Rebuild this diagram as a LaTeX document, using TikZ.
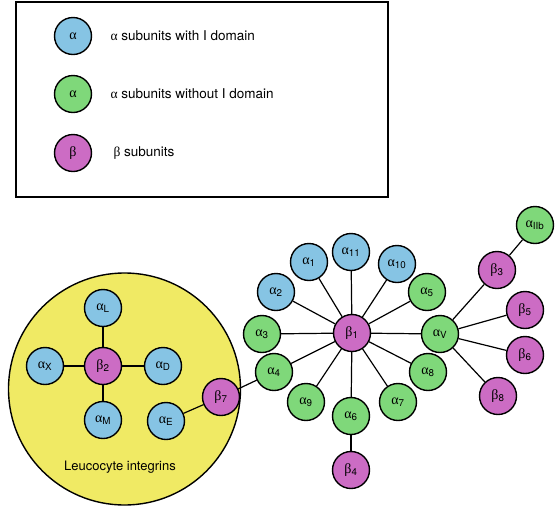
\documentclass[tikz,border=0pt]{standalone}
\usepackage{fontspec}
\setmainfont{TeX Gyre Heros}
\newfontfamily\grk{Liberation Serif}
\definecolor{iblue}{RGB}{134,196,228}
\definecolor{igreen}{RGB}{127,216,122}
\definecolor{ipink}{RGB}{204,108,196}
\definecolor{leuco}{RGB}{240,234,100}
\newcommand{\asub}[1]{{\grk α}\textsubscript{#1}}
\newcommand{\bsub}[1]{{\grk β}\textsubscript{#1}}

\begin{document}
\begin{tikzpicture}[
    x=1pt, y=-1pt,
    unit/.style={circle, draw, line width=1.4pt, minimum size=37pt, inner sep=0pt,
        font=\fontsize{14}{14}\selectfont},
    withi/.style={unit, fill=iblue},
    noi/.style={unit, fill=igreen},
    beta/.style={unit, fill=ipink},
    link/.style={line width=1.2pt},
    lbl/.style={font=\fontsize{13.5}{15}\selectfont, anchor=west},
]
    \useasboundingbox (0,0) rectangle (555,507);

    %% key
    \draw[line width=1.4pt] (16,2) rectangle (388,197);
    \node[withi] (kwith) at (73,36) {\grk α};
    \node[noi] (kno) at (73,94) {\grk α};
    \node[beta] (kbeta) at (73,153) {\grk β};
    \node[lbl] (twith) at (107,36) {{\grk α} subunits with I domain};
    \node[lbl] (tno) at (107,94) {{\grk α} subunits without I domain};
    \node[lbl] (tbeta) at (110,153) {{\grk β} subunits};

    %% leucocyte group
    \node[circle, draw, line width=1.4pt, fill=leuco, minimum size=232pt] (leuco) at (124.5,389) {};
    \node[font=\fontsize{13}{15}\selectfont] (tleuco) at (120,467) {Leucocyte integrins};

    \node[beta] (b2) at (103,366) {\bsub{2}};
    \node[withi] (aL) at (103,308) {\asub{L}};
    \node[withi] (aX) at (45,366) {\asub{X}};
    \node[withi] (aD) at (163,366) {\asub{D}};
    \node[withi] (aM) at (103,420) {\asub{M}};
    \node[withi] (aE) at (166,421) {\asub{E}};
    \node[beta] (b7) at (221,397) {\bsub{7}};

    %% beta1 partners
    \node[beta] (b1) at (352,333) {\bsub{1}};
    \node[withi] (a11) at (351,252) {\asub{11}};
    \node[withi] (a1) at (309,262) {\asub{1}};
    \node[withi] (a10) at (397,264) {\asub{10}};
    \node[withi] (a2) at (276,292) {\asub{2}};
    \node[noi] (a5) at (427,292) {\asub{5}};
    \node[noi] (a3) at (262,334) {\asub{3}};
    \node[noi] (aV) at (440,334) {\asub{V}};
    \node[noi] (a4) at (274,372) {\asub{4}};
    \node[noi] (a8) at (428,372) {\asub{8}};
    \node[noi] (a9) at (306,402) {\asub{9}};
    \node[noi] (a7) at (398,402) {\asub{7}};
    \node[noi] (a6) at (351,416) {\asub{6}};
    \node[beta] (b4) at (351,470) {\bsub{4}};

    %% alphaV partners
    \node[noi] (aIIb) at (535,225) {\asub{IIb}};
    \node[beta] (b3) at (497,270) {\bsub{3}};
    \node[beta] (b5) at (525,310) {\bsub{5}};
    \node[beta] (b6) at (525,355) {\bsub{6}};
    \node[beta] (b8) at (498,396) {\bsub{8}};

    \foreach \a in {aL, aX, aD, aM}{
        \draw[link] (b2) -- (\a);
    }
    \foreach \a in {a11, a1, a10, a2, a5, a3, aV, a4, a8, a9, a7, a6}{
        \draw[link] (b1) -- (\a);
    }
    \foreach \b in {b3, b5, b6, b8}{
        \draw[link] (aV) -- (\b);
    }
    \draw[link] (b7) -- (aE);
    \draw[link] (b7) -- (a4);
    \draw[link] (a6) -- (b4);
    \draw[link] (b3) -- (aIIb);
\end{tikzpicture}
\end{document}
